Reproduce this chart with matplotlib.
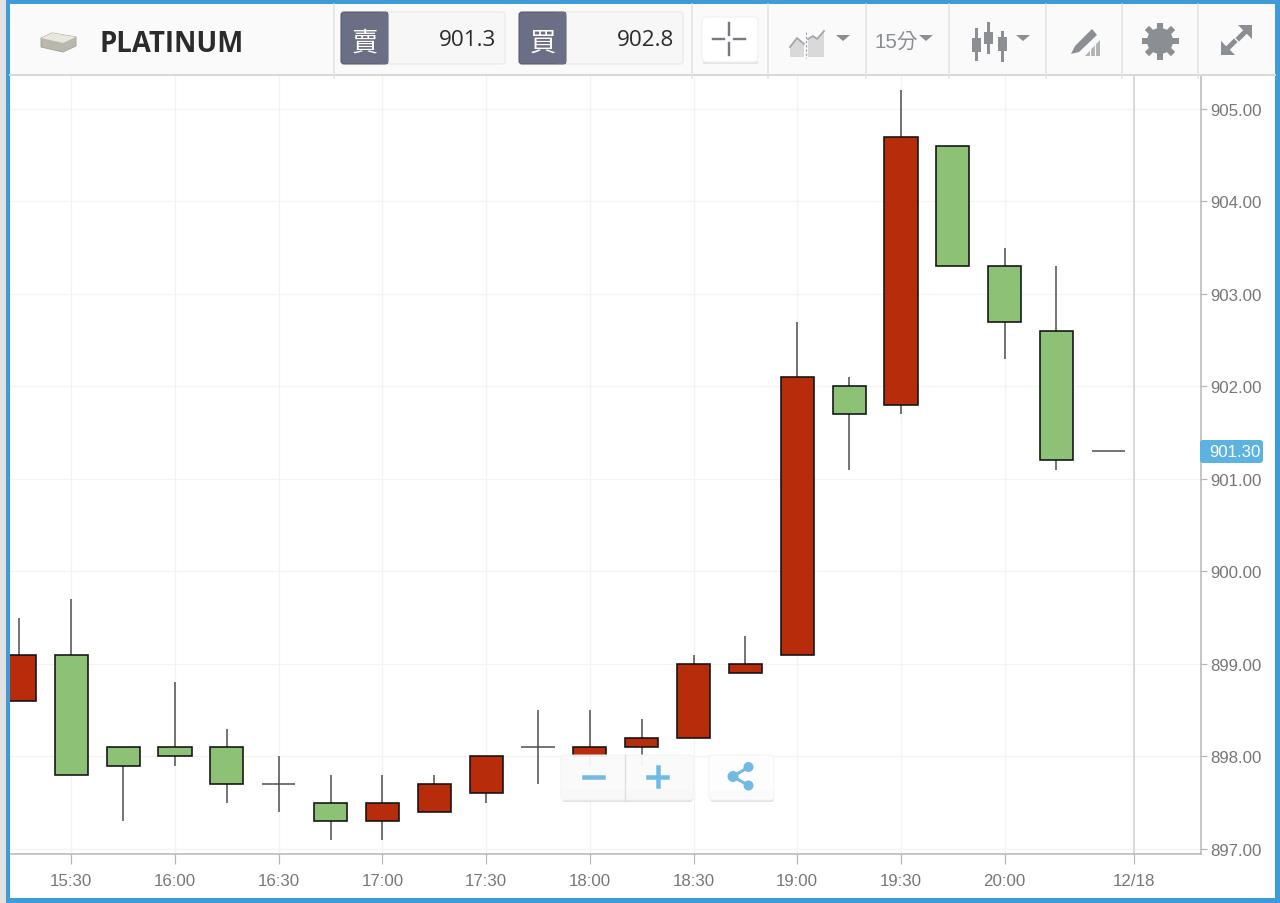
#!/usr/bin/env python3
"""Platinum 15 minute candlestick chart with trading toolbar."""

import matplotlib
matplotlib.use("Agg")
import matplotlib.pyplot as plt
import numpy as np
from matplotlib.patches import Circle, FancyBboxPatch, Polygon, Rectangle

# candle data, 15:15 to 20:30
opens = [898.6, 899.1, 898.1, 898.1, 898.1, 897.7, 897.5, 897.3, 897.4, 897.6, 898.1,
         898.0, 898.1, 898.2, 898.9, 899.1, 902.0, 901.8, 904.6, 903.3, 902.6, 901.3]
closes = [899.1, 897.8, 897.9, 898.0, 897.7, 897.7, 897.3, 897.5, 897.7, 898.0, 898.1,
          898.1, 898.2, 899.0, 899.0, 902.1, 901.7, 904.7, 903.3, 902.7, 901.2, 901.3]
highs = [899.5, 899.7, 898.1, 898.8, 898.3, 898.0, 897.8, 897.8, 897.8, 898.0, 898.5,
         898.5, 898.4, 899.1, 899.3, 902.7, 902.1, 905.2, 904.6, 903.5, 903.3, 901.3]
lows = [898.6, 897.8, 897.3, 897.9, 897.5, 897.4, 897.1, 897.1, 897.4, 897.5, 897.7,
        897.9, 897.9, 898.2, 898.9, 899.1, 901.1, 901.7, 903.3, 902.3, 901.1, 901.3]
time_ticks = [1, 3, 5, 7, 9, 11, 13, 15, 17, 19]
time_labels = ["15:30", "16:00", "16:30", "17:00", "17:30", "18:00", "18:30", "19:00", "19:30", "20:00"]
date_tick = 21.49
date_label = "12/18"
price_ticks = [897, 898, 899, 900, 901, 902, 903, 904, 905]
last_price = 901.3
symbol = "PLATINUM"
sell_price = "901.3"
buy_price = "902.8"
interval = "15分"

W, H = 1280, 904
PX = 0.72
RED = "#b72c0a"
GREEN = "#8dc276"
BLUE = "#3f9bd8"
ICON = "#8b8e93"
SANS = ["Liberation Sans", "DejaVu Sans"]
OPEN = ["Open Sans", "Noto Sans CJK TC", "DejaVu Sans"]

fig = plt.figure(figsize=(W / 100, H / 100), dpi=100, facecolor="white")

# chart area
ax = fig.add_axes([10 / W, 1 - 855 / H, (1201 - 10) / W, (855 - 76) / H])
ax.set_xlim(-0.183, 22.787)
ax.set_ylim(896.945, 905.365)
for i in range(len(opens)):
    x = i
    top = max(opens[i], closes[i])
    bottom = min(opens[i], closes[i])
    color = RED if closes[i] > opens[i] else GREEN
    ax.vlines(x, lows[i], highs[i], color="#4a4a4a", lw=1.5 * PX, zorder=3)
    if top == bottom:
        ax.hlines(top, x - 0.32, x + 0.32, color="#4a4a4a", lw=1.5 * PX, zorder=3)
    else:
        ax.bar(x, top - bottom, bottom=bottom, width=0.64, color=color,
               edgecolor="#111111", linewidth=1.6 * PX, zorder=4)

ax.set_xticks(time_ticks + [date_tick], time_labels + [date_label])
ax.set_yticks(price_ticks, [f"{p:.2f}" for p in price_ticks])
ax.yaxis.tick_right()
ax.grid(color="#f3f3f3", lw=1.3 * PX, zorder=0)
ax.set_axisbelow(True)
ax.axvline(date_tick, color="#d2d2d2", lw=1.5 * PX, zorder=1)
ax.tick_params(axis="both", width=1.2 * PX, color="#b5b5b5",
               labelcolor="#777777", labelsize=12.2)
ax.tick_params(axis="x", length=7, pad=7)
ax.tick_params(axis="y", length=4, pad=2.5)
for label in ax.get_xticklabels() + ax.get_yticklabels():
    label.set_family(SANS)
for side in ["top", "left"]:
    ax.spines[side].set_visible(False)
for side in ["bottom", "right"]:
    ax.spines[side].set_color("#b5b5b5")
    ax.spines[side].set_linewidth(1.5 * PX)

# overlay in pixel coordinates for toolbar and frame
ov = fig.add_axes([0, 0, 1, 1], facecolor="none")
ov.set_xlim(0, W)
ov.set_ylim(H - 1, -1)
ov.axis("off")

ov.add_patch(Rectangle((10, 3), 1265, 72, fc="#fafafa", ec="none"))
ov.plot([10, 1275], [75, 75], color="#d8d8d8", lw=2 * PX)
for sx in [334, 692, 768, 866, 949, 1046, 1122, 1198]:
    ov.plot([sx, sx], [4, 78], color="#e2e2e2", lw=1.5 * PX)

# bar icon and name
ov.add_patch(Polygon([(41, 38), (52, 33), (76, 37), (76, 46), (63, 52), (41, 47)],
                     fc="#b9b8aa", ec="#a9a89a", lw=PX))
ov.add_patch(Polygon([(41, 38), (52, 33), (76, 37), (63, 43)], fc="#e8e7dd", ec="none"))
ov.text(100, 43, symbol, fontsize=19.8, fontweight="bold", family=OPEN, color="#2b2b2b",
        va="center", ha="left")

# sell and buy boxes
for bx, word, price in [(341, "賣", sell_price), (519, "買", buy_price)]:
    ov.add_patch(FancyBboxPatch((bx, 12), 164, 52, boxstyle="round,pad=0,rounding_size=3",
                                fc="#f7f7f7", ec="#ececec", lw=1.5 * PX))
    ov.add_patch(FancyBboxPatch((bx, 12), 47, 52, boxstyle="round,pad=0,rounding_size=3",
                                fc="#6b6f85", ec="#565a6e", lw=PX))
    ov.add_patch(Rectangle((bx + 38, 12), 9, 52, fc="#6b6f85", ec="none"))
    ov.text(bx + 24, 42, word, fontsize=19, family=["Noto Sans CJK TC", "DejaVu Sans"],
            color="white", ha="center", va="center")
    ov.text(bx + 155.5, 40, price, fontsize=16.2, family=OPEN, color="#2b2b2b",
            ha="right", va="center")

# crosshair button
ov.add_patch(Rectangle((703, 61), 55, 3, fc="#e4e4e4", ec="none"))
ov.add_patch(FancyBboxPatch((702, 17), 56, 45, boxstyle="round,pad=0,rounding_size=5",
                            fc="white", ec="#f0f0f0", lw=PX))
for x0, y0, x1, y1 in [(713, 38.5, 724, 38.5), (734, 38.5, 745, 38.5), (728.7, 23, 728.7, 35), (728.7, 43, 728.7, 55)]:
    ov.plot([x0, x1], [y0, y1], color="#777a80", lw=2.4 * PX)

# compare icon
ov.add_patch(Polygon([(790, 47), (797, 38), (804, 44), (804, 57), (790, 57)], fc="#d8d9db", ec="none"))
ov.add_patch(Polygon([(808, 39), (813, 36), (817, 39), (824, 31), (824, 57), (808, 57)], fc="#d8d9db", ec="none"))
ov.plot([790, 797, 804], [47, 38, 44], color="#a4a6a9", lw=1.8 * PX)
ov.plot([808, 813, 817, 824], [39, 36, 39, 31], color="#a4a6a9", lw=1.8 * PX)
ov.plot([805.5, 805.5], [32, 58], color="#a4a6a9", lw=1.2 * PX, ls=(0, (2, 1.5)))

# dropdown arrows
for cx in [843, 926, 1023]:
    ov.add_patch(Polygon([(cx - 7, 35), (cx + 7, 35), (cx, 41)], fc=ICON, ec="none"))
ov.text(875, 41, interval, fontsize=14.8, family=["Liberation Sans", "Noto Sans CJK TC"],
        color="#8b8e93", ha="left", va="center")

# candles icon
for cx, y0, y1, b0, b1 in [(976, 29, 59, 38, 52), (988, 23, 52, 32, 44), (1002, 32, 60, 37, 51)]:
    ov.plot([cx, cx], [y0, y1], color=ICON, lw=3 * PX)
    ov.add_patch(Rectangle((cx - 4.5, b0), 9, b1 - b0, fc=ICON, ec="none"))

# drawing icon
ov.add_patch(Polygon([(1071, 54), (1075, 46), (1092, 29), (1097, 35), (1079, 52)], fc=ICON, ec="none"))
ov.add_patch(Polygon([(1085, 56), (1100, 40), (1100, 56)], fc="#b0b2b5", ec="none"))
for sx in [1090, 1095]:
    ov.plot([sx, sx], [44, 56], color="#fafafa", lw=1.2 * PX)

# settings gear
for a in np.arange(0, np.pi, np.pi / 4):
    ov.plot([1160 - 15.5 * np.cos(a), 1160 + 15.5 * np.cos(a)],
            [41 - 15.5 * np.sin(a), 41 + 15.5 * np.sin(a)], color=ICON, lw=6 * PX)
ov.add_patch(Circle((1160, 41), 13, fc=ICON, ec="none"))
ov.add_patch(Circle((1160, 41), 6, fc="#fafafa", ec="none"))

# fullscreen arrows
ov.add_patch(Polygon([(1238, 25), (1252, 25), (1252, 39)], fc=ICON, ec="none"))
ov.add_patch(Polygon([(1221, 41), (1221, 55), (1235, 55)], fc=ICON, ec="none"))
ov.plot([1239, 1247], [38, 30], color=ICON, lw=5 * PX)
ov.plot([1226, 1234], [50, 42], color=ICON, lw=5 * PX)

# last price tag
ov.add_patch(FancyBboxPatch((1200, 440), 63, 23, boxstyle="round,pad=0,rounding_size=3",
                            fc="#5cb3e0", ec="none"))
ov.text(1235, 452, f"{last_price:.2f}", fontsize=12.2, family=SANS, color="white",
        ha="center", va="center")

# zoom and share buttons
ov.add_patch(FancyBboxPatch((562, 790), 131, 12, boxstyle="round,pad=0,rounding_size=3",
                            fc="#e2e2e2", ec="none"))
ov.add_patch(FancyBboxPatch((710, 790), 64, 12, boxstyle="round,pad=0,rounding_size=3",
                            fc="#e2e2e2", ec="none"))
ov.add_patch(FancyBboxPatch((561, 755), 132, 45, boxstyle="round,pad=0,rounding_size=3",
                            fc="#fafafa", ec="#f2f2f2", lw=PX, alpha=0.95))
ov.plot([625, 625], [755, 801], color="#dddddd", lw=1.3 * PX)
ov.add_patch(FancyBboxPatch((709, 755), 65, 45, boxstyle="round,pad=0,rounding_size=3",
                            fc="#fdfdfd", ec="#f2f2f2", lw=PX, alpha=0.95))
ov.plot([584, 603], [776.5, 776.5], color="#72b9e3", lw=4.5 * PX)
ov.plot([648, 667], [776.5, 776.5], color="#72b9e3", lw=4.5 * PX)
ov.plot([657.5, 657.5], [767, 786], color="#72b9e3", lw=4.5 * PX)
ov.plot([748.5, 733, 748.5], [767, 776.5, 785.5], color="#72b9e3", lw=3 * PX)
for cx, cy, r in [(748.5, 767, 5), (733, 776.5, 5.5), (748.5, 785.5, 5)]:
    ov.add_patch(Circle((cx, cy), r, fc="#72b9e3", ec="none"))

# blue frame
ov.add_patch(Rectangle((0, -1), 6, H + 1, fc="#e2e2e2", ec="none"))
ov.add_patch(Rectangle((6, -1), 4, H + 1, fc=BLUE, ec="none"))
ov.add_patch(Rectangle((6, -1), W - 6, 5, fc=BLUE, ec="none"))
ov.add_patch(Rectangle((6, 898), W - 6, 6, fc=BLUE, ec="none"))
ov.add_patch(Rectangle((1275, -1), 5, H + 1, fc=BLUE, ec="none"))

fig.savefig("out.png", dpi=100)
